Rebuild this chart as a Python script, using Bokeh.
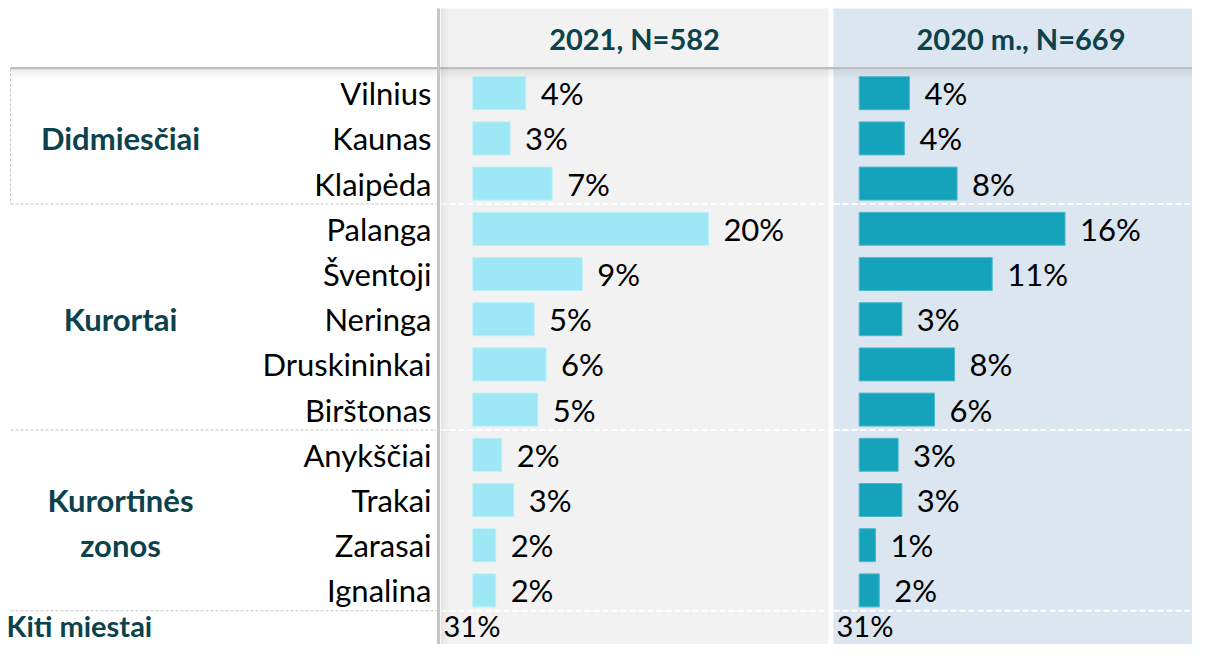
from bokeh.plotting import figure
from bokeh.models import Range1d, ColumnDataSource
from bokeh.core.properties import value
from bokeh.embed import file_html
from bokeh.resources import INLINE

# ---------------- data ----------------
cities = ["Vilnius", "Kaunas", "Klaipėda", "Palanga", "Šventoji", "Neringa",
          "Druskininkai", "Birštonas", "Anykščiai", "Trakai", "Zarasai", "Ignalina"]
groups = ["Didmiesčiai", "Kurortai", "Kurortinės\nzonos"]
group_first = [0, 3, 8]
group_last = [2, 7, 11]
series_names = ["2021, N=582", "2020 m., N=669"]
v2021 = [4.4, 3.1, 6.6, 19.6, 9.1, 5.1, 6.1, 5.4, 2.4, 3.4, 1.9, 1.9]
v2020 = [4.0, 3.6, 7.8, 16.4, 10.6, 3.4, 7.6, 6.0, 3.1, 3.4, 1.3, 1.6]
other_label = "Kiti miestai"
other_values = [31, 31]

# ---------------- layout (reference pixel space) ----------------
OX, OY = 0, 4
W, H = 1192, 644
ROW0, ROWH = 96.7, 45.2
OTHER_ROW = len(cities) - 0.22
FONT = value("Lato")
TEAL = "#0c424c"
BAR_COLORS = ["#9de8f4", "#14a3bb"]
BAR_LINES = ["#b9eff8", "#4cb9cc"]
PANEL_BG = ["#f2f2f2", "#dce6f0"]
PANEL_X = [(440, 828), (833, 1208)]
BAR_X0 = [472.3, 858.7]
PX_PER_PCT = [12.02, 12.55]
FS = "31px"
FS_OTHER = "29px"

p = figure(width=W, height=H, output_backend="svg", toolbar_location=None,
           x_range=Range1d(OX, OX + W), y_range=Range1d(OY + H, OY),
           x_axis_location=None, y_axis_location=None, min_border=0,
           outline_line_color=None, background_fill_color="white",
           border_fill_color="white")
p.grid.visible = False

p.extra_y_ranges = {"rows": Range1d((OY + H - ROW0) / ROWH, (OY - ROW0) / ROWH)}
p.extra_x_ranges = {
    f"s{k}": Range1d((OX - BAR_X0[k]) / PX_PER_PCT[k], (OX + W - BAR_X0[k]) / PX_PER_PCT[k])
    for k in range(2)
}

# panel backgrounds
for k in range(2):
    p.quad(left=PANEL_X[k][0], right=PANEL_X[k][1], top=12, bottom=OY + H + 5,
           fill_color=PANEL_BG[k], line_color=None)

rows = list(range(len(cities)))
n = len(cities)
seps = [group_last[0] + 0.45, group_last[1] + 0.45, group_last[2] + 0.45]

# separators in panels (white dashed) and label area (gray dashed)
for s in seps:
    for k in range(2):
        p.segment(x0=PANEL_X[k][0], x1=PANEL_X[k][1], y0=s, y1=s, y_range_name="rows",
                  line_color="white", line_width=2, line_dash="6 3")
    p.segment(x0=10, x1=437, y0=s, y1=s, y_range_name="rows",
              line_color="#c4c4c4", line_width=1, line_dash="3 2")
p.segment(x0=10, x1=10, y0=(72 - ROW0) / ROWH, y1=seps[0], y_range_name="rows",
          line_color="#c4c4c4", line_width=1, line_dash="3 2")

# bars + value labels + headers
for k, vals in enumerate([v2021, v2020]):
    src = ColumnDataSource(dict(y=rows, v=vals, lab=[f"{v:.0f}%" for v in vals]))
    p.hbar(y="y", left=0, right="v", height=0.73, source=src,
           x_range_name=f"s{k}", y_range_name="rows",
           fill_color=BAR_COLORS[k], line_color=BAR_LINES[k], line_width=1)
    p.text(x="v", y="y", text="lab", source=src, x_range_name=f"s{k}", y_range_name="rows",
           x_offset=15, text_align="left", text_baseline="middle",
           text_font=FONT, text_font_size=FS, text_color="#000000")
    p.text(x=[(PANEL_X[k][0] + PANEL_X[k][1]) / 2], y=[42], text=[series_names[k]],
           text_align="center", text_baseline="middle", text_font=FONT,
           text_font_size="29px", text_font_style="bold", text_color=TEAL)
    p.text(x=[PANEL_X[k][0] + 3], y=[OTHER_ROW], text=[f"{other_values[k]}%"],
           y_range_name="rows", text_align="left", text_baseline="middle",
           text_font=FONT, text_font_size=FS_OTHER, text_color="#000000")

# city labels
p.text(x=[431] * n, y=rows, text=cities, y_range_name="rows", text_align="right",
       text_baseline="middle", text_font=FONT, text_font_size=FS, text_color="#000000")

# group labels
gx, gy, gt = [], [], []
for g, a, b in zip(groups, group_first, group_last):
    lines = g.split("\n")
    c = (a + b) / 2
    for i, ln in enumerate(lines):
        gx.append(120)
        gy.append(c - (len(lines) - 1) / 2 + i)
        gt.append(ln)
p.text(x=gx, y=gy, text=gt, y_range_name="rows", text_align="center",
       text_baseline="middle", text_font=FONT, text_font_size="31px",
       text_font_style="bold", text_color=TEAL)
p.text(x=[6], y=[OTHER_ROW], text=[other_label], y_range_name="rows", text_align="left",
       text_baseline="middle", text_font=FONT, text_font_size=FS_OTHER,
       text_font_style="bold", text_color=TEAL)

# header line with shadow
for i in range(9):
    p.segment(x0=10, x1=1210, y0=74 + i, y1=74 + i, line_color="#000000",
              line_alpha=0.06 * (1 - i / 9), line_width=1)
p.segment(x0=10, x1=1210, y0=71.8, y1=71.8, line_color="#bfbfbf", line_width=2.5)

# vertical line with shadow
for i in range(8):
    p.segment(x0=441 + i, x1=441 + i, y0=12, y1=OY + H + 5, line_color="#000000",
              line_alpha=0.05 * (1 - i / 8), line_width=1)
p.segment(x0=438, x1=438, y0=12, y1=OY + H + 5, line_color="#c6c6c6", line_width=3)

open("out.html", "w").write(file_html(p, INLINE))
